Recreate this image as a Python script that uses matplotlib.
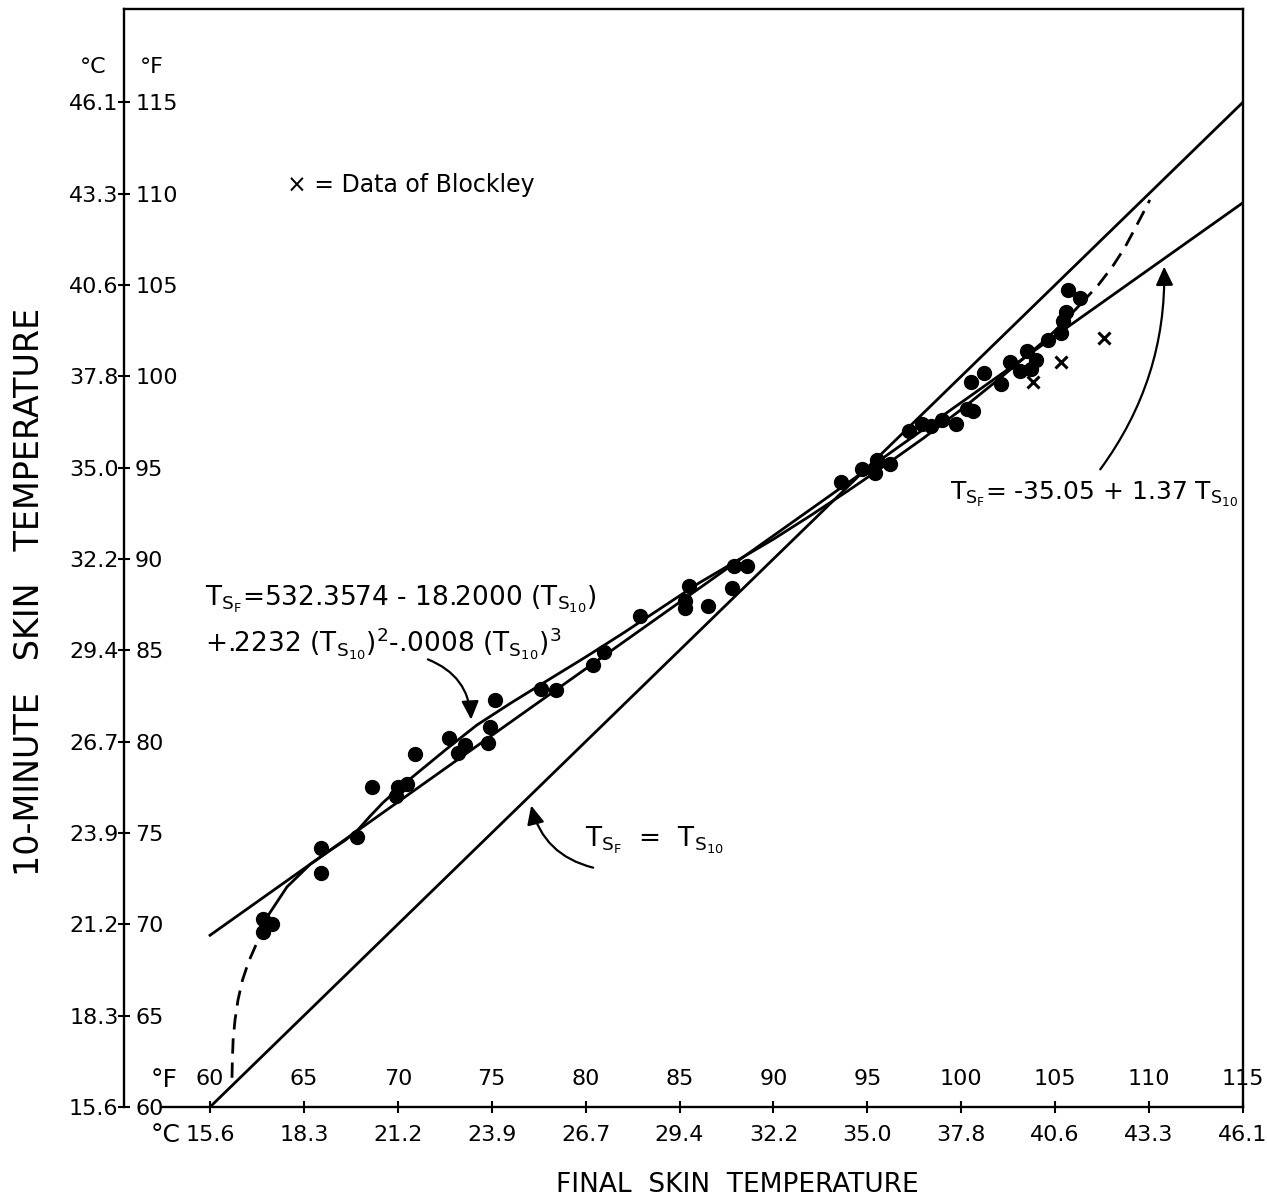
import matplotlib.pyplot as plt
from matplotlib.patches import FancyArrowPatch

plt.rcParams['font.family'] = ['DejaVu Sans']
plt.rcParams['mathtext.fontset'] = 'dejavusans'

W, H = 1267, 1204

# axis ticks (deg F) and matching deg C labels
tick_f = [60, 65, 70, 75, 80, 85, 90, 95, 100, 105, 110, 115]
tick_f_lbl = ['60', '65', '70', '75', '80', '85', '90', '95', '100', '105', '110', '115']
tick_c_lbl = ['15.6', '18.3', '21.2', '23.9', '26.7', '29.4', '32.2', '35.0',
              '37.8', '40.6', '43.3', '46.1']

# subjects (deg F): final skin temp vs 10-minute skin temp
final_f = [62.8, 63.3, 62.8, 65.9, 65.9, 67.8, 68.6, 70.0, 70.5, 69.9,
           70.9, 72.7, 73.6, 73.2, 75.2, 74.9, 74.8, 77.6, 78.4, 80.4,
           81.0, 82.9, 85.5, 85.3, 85.3, 86.5, 87.8, 87.9, 88.6, 93.6,
           94.7, 95.4, 95.5, 96.2, 97.2, 97.9, 98.4, 99.0, 99.7, 100.3,
           100.6, 100.5, 101.2, 102.1, 102.6, 103.1, 103.5, 104.0, 103.7, 104.6,
           105.3, 105.4, 105.6, 105.7, 106.3]
ten_min_f = [70.3, 70.0, 69.6, 74.2, 72.8, 74.8, 77.5, 77.5, 77.7, 77.0,
             79.3, 80.2, 79.8, 79.4, 82.3, 80.8, 79.9, 82.9, 82.8, 84.2,
             84.9, 86.9, 88.5, 87.7, 87.3, 87.4, 88.4, 89.6, 89.6, 94.2,
             94.9, 94.7, 95.4, 95.2, 97.0, 97.4, 97.25, 97.6, 97.4, 98.2,
             98.1, 99.7, 100.2, 99.6, 100.8, 100.3, 101.4, 100.9, 100.4, 102.0,
             102.35, 103.0, 103.5, 104.7, 104.3]

# data of Blockley
blockley_final = [103.8, 105.3, 107.6]
blockley_ten = [99.7, 100.8, 102.1]

# T_SF = T_S10
ident_x = [60, 115]
ident_y = [60, 115]
# T_SF = -35.05 + 1.37 T_S10
lin_x = [60, 115]
lin_y = [69.4, 109.5]

# cubic fit
cub_lo_x = [61.17, 61.19, 61.23, 61.33, 61.49, 61.73, 62.05, 62.42, 62.8, 63.05]
cub_lo_y = [61.6, 62.57, 63.67, 64.76, 65.86, 66.95, 67.94, 68.81, 69.58, 70.1]
cub_x = [63.05, 64.1, 65.35, 66.4, 67.2, 67.9, 68.55, 69.2, 70.0, 71.0,
         72.6, 74.2, 76.0, 78.0, 80.0, 82.0, 84.0, 86.0, 88.0, 90.0,
         92.0, 94.0, 96.0, 98.0, 100.0, 102.0, 103.5, 104.5, 105.3, 106.4]
cub_y = [70.42, 72.05, 73.3, 74.05, 74.6, 75.2, 75.95, 76.65, 77.4, 78.25,
         79.6, 80.9, 82.1, 83.37, 84.63, 85.94, 87.3, 88.66, 89.87, 91.08,
         92.39, 93.75, 95.16, 96.62, 98.18, 99.84, 101.13, 102.01, 102.8, 104.0]
cub_hi_x = [106.4, 107.3, 108.05, 108.7, 109.2, 109.65, 110.04]
cub_hi_y = [104.0, 105.0, 106.0, 107.03, 107.99, 108.87, 109.65]


def px(x, y):
    return x / W, 1 - y / H


fig = plt.figure(figsize=(W / 100, H / 100), dpi=100)
ax = fig.add_axes([124 / W, 97 / H, (1243 - 124) / W, (1195 - 97) / H])
ax.set_xlim(55.42, 115)
ax.set_ylim(60, 120.1)

for s in ax.spines.values():
    s.set_linewidth(1.7)
ax.spines['bottom'].set_bounds(57.4, 115)

ax.set_xticks(tick_f, tick_c_lbl)
ax.set_yticks(tick_f, tick_c_lbl)
ax.tick_params(direction='inout', length=8, width=1.5, labelsize=16)
ax.tick_params(axis='x', pad=9)
ax.tick_params(axis='y', pad=0)

# deg F labels inside the frame
axf = ax.twiny()
axf.set_xlim(ax.get_xlim())
axf.spines['top'].set_position(('axes', 0))
axf.set_xticks(tick_f, tick_f_lbl)
axf.tick_params(axis='x', length=0, pad=13, labelsize=16)
for s in axf.spines.values():
    s.set_visible(False)

ayf = ax.twinx()
ayf.set_ylim(ax.get_ylim())
ayf.spines['right'].set_position(('axes', 0))
ayf.set_yticks(tick_f, tick_f_lbl)
ayf.tick_params(axis='y', length=0, pad=8, labelsize=16)
for s in ayf.spines.values():
    s.set_visible(False)

# lines
ax.plot(ident_x, ident_y, color='black', lw=2)
ax.plot(lin_x, lin_y, color='black', lw=2)
ax.plot(cub_x, cub_y, color='black', lw=2)
ax.plot(cub_lo_x, cub_lo_y, color='black', lw=2, dashes=(5.5, 3.2))
ax.plot(cub_hi_x, cub_hi_y, color='black', lw=2, dashes=(5.5, 3.2))

# points
ax.plot(final_f, ten_min_f, 'o', color='black', ms=10, zorder=5)
ax.plot(blockley_final, blockley_ten, 'x', color='black', ms=8.5, mew=2.2, zorder=5)

# arrows
arrow_kw = dict(arrowstyle='-|>,head_length=0.75,head_width=0.35', mutation_scale=15,
                color='black', lw=1.6, shrinkA=0, shrinkB=0)
ax.add_patch(FancyArrowPatch((71.6, 84.5), (73.9, 81.2),
                             connectionstyle='arc3,rad=-0.32', **arrow_kw))
ax.add_patch(FancyArrowPatch((80.4, 73.1), (77.1, 76.5),
                             connectionstyle='arc3,rad=-0.3', **arrow_kw))
ax.add_patch(FancyArrowPatch((107.4, 94.9), (110.8, 106.0),
                             connectionstyle='arc3,rad=0.17', **arrow_kw))

# texts
fig.text(*px(93, 67), '°C', fontsize=16, ha='center', va='center')
fig.text(*px(152, 67), '°F', fontsize=16, ha='center', va='center')
fig.text(*px(164, 1080), '°F', fontsize=18, ha='center', va='center')
fig.text(*px(166, 1135), '°C', fontsize=18, ha='center', va='center')

fig.text(*px(287, 185), '× = Data of Blockley', fontsize=17, ha='left', va='center')
fig.text(*px(205, 605), r'$\mathrm{T}_{\mathrm{S}_{\mathrm{F}}}$=532.3574 - 18.2000 ($\mathrm{T}_{\mathrm{S}_{10}}$)',
         fontsize=19, ha='left', va='baseline')
fig.text(*px(205, 652), r'+.2232 ($\mathrm{T}_{\mathrm{S}_{10}}$)$^{2}$-.0008 ($\mathrm{T}_{\mathrm{S}_{10}}$)$^{3}$',
         fontsize=19, ha='left', va='baseline')
fig.text(*px(585, 846), r'$\mathrm{T}_{\mathrm{S}_{\mathrm{F}}}$  =  $\mathrm{T}_{\mathrm{S}_{10}}$',
         fontsize=19, ha='left', va='baseline')
fig.text(*px(950, 500), r'$\mathrm{T}_{\mathrm{S}_{\mathrm{F}}}$= -35.05 + 1.37 $\mathrm{T}_{\mathrm{S}_{10}}$',
         fontsize=18, ha='left', va='baseline')

fig.text(*px(737, 1185), 'FINAL  SKIN  TEMPERATURE', fontsize=19, ha='center', va='center')
fig.text(*px(30, 592), '10-MINUTE   SKIN   TEMPERATURE', fontsize=24, ha='center', va='center',
         rotation=90)

fig.savefig('out.png', dpi=100, facecolor='white')
